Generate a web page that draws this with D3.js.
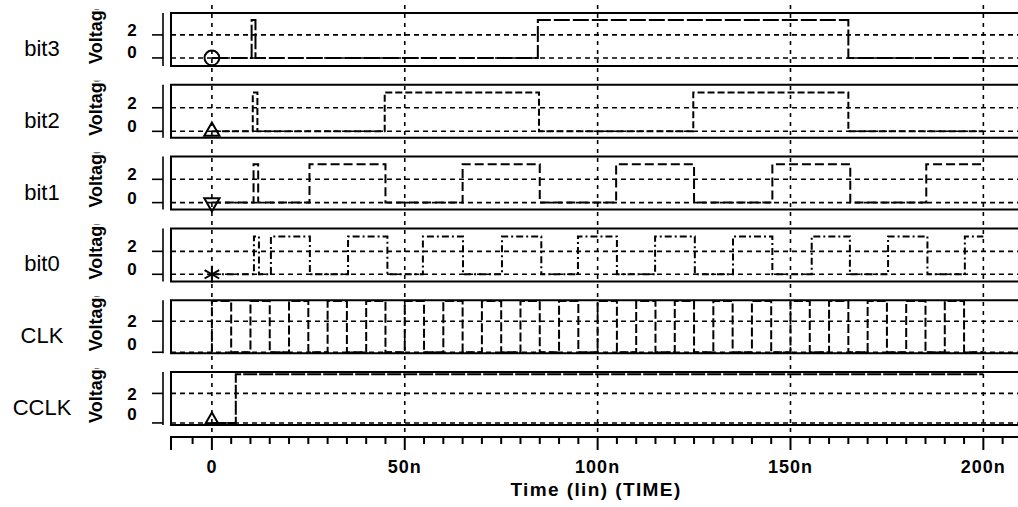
<!DOCTYPE html>
<html>
<head>
<meta charset="utf-8">
<script src="https://cdn.jsdelivr.net/npm/d3@7"></script>
<style>
  body { margin: 0; background: #fff; }
  svg { display: block; font-family: 'Liberation Sans', Arial, sans-serif; }
</style>
</head>
<body>
<div id="chart"></div>
<script>
// waveform data, times in ns, every signal starts low at t = 0
const signalNames = ['bit3', 'bit2', 'bit1', 'bit0', 'CLK', 'CCLK']
const highLevel = 3.3
const endTime = 200
const bit3Edges = [10.3, 11.3, 84.5, 165]
const bit2Edges = [10.6, 11.8, 44.8, 84.8, 124.8, 165]
const bit1Edges = [10.8, 12, 25.3, 45, 65, 85, 104.8, 125, 145.3, 165.5, 185.2]
const bit0Edges = [10.9, 12.2, 15.3, 25.4, 35.3, 45.5, 54.7, 65.1, 75.2, 85.4,
  94.9, 105, 114.9, 125.2, 135.1, 145.3, 155.5, 165.4, 175.3, 185.5, 195.2]
const clkEdges = [0, 5, 10, 15, 20, 25, 30, 35, 40, 45, 50, 55, 60, 65, 70, 75,
  80, 85, 90, 95, 100, 105, 110, 115, 120, 125, 130, 135, 140, 145, 150, 155,
  160, 165, 170, 175, 180, 185, 190, 195]
const cclkEdges = [6.2]
const voltTicks = [0, 2]
const timeTicks = [0, 50, 100, 150, 200]
const timeTickLabels = ['0', '50n', '100n', '150n', '200n']

const width = 1018
const height = 507
const panelHeight = 53
const panelStep = 71.8
const firstTop = 13
const axisY = 437

const panels = [
  { edges: bit3Edges, domain: [-0.7, 3.9], dash: '16,3', marker: d3.symbolCircle, size: 170, shift: [0, 1] },
  { edges: bit2Edges, domain: [-0.55, 3.95], dash: '7,3', marker: d3.symbolTriangle, size: 100, shift: [1, 1] },
  { edges: bit1Edges, domain: [-0.6, 3.95], dash: '9,4', marker: d3.symbolTriangle, size: 100, flip: true, shift: [1, 1] },
  { edges: bit0Edges, domain: [-0.62, 4.0], dash: '7,3,2,3', marker: d3.symbolAsterisk, size: 200, shift: [1, 1] },
  { edges: clkEdges, domain: [-0.06, 3.35], dash: '9,3', shift: [-2, 6] },
  { edges: cclkEdges, domain: [-0.14, 3.45], dash: '14,2', marker: d3.symbolTriangle, size: 70, shift: [-3, 7], lift: 3 }
]

const xScale = d3.scaleLinear().domain([-10.6, 209.5]).range([171, 1020])

const svg = d3
  .select('#chart')
  .append('svg')
  .attr('width', width)
  .attr('height', height)

const defs = svg.append('defs')

function stepPoints(edges) {
  const pts = [[0, 0]]
  let level = 0
  for (const t of edges) {
    pts.push([t, level])
    level = level === 0 ? highLevel : 0
    pts.push([t, level])
  }
  pts.push([endTime, level])
  return pts
}

// vertical grid lines through every panel
svg
  .append('g')
  .selectAll('line')
  .data(timeTicks)
  .join('line')
  .attr('x1', (d) => xScale(d))
  .attr('x2', (d) => xScale(d))
  .attr('y1', 5)
  .attr('y2', axisY)
  .attr('stroke', '#000')
  .attr('stroke-width', 1.6)
  .attr('stroke-dasharray', '4,5')

panels.forEach((p, i) => {
  const top = firstTop + i * panelStep
  const bottom = top + panelHeight
  const yScale = d3.scaleLinear().domain(p.domain).range([bottom, top])
  const g = svg.append('g')

  // horizontal grid at 0 V and 2 V
  g.selectAll('.hgrid')
    .data(voltTicks)
    .join('line')
    .attr('x1', xScale.range()[0])
    .attr('x2', width)
    .attr('y1', (d) => yScale(d))
    .attr('y2', (d) => yScale(d))
    .attr('stroke', '#000')
    .attr('stroke-width', 1.6)
    .attr('stroke-dasharray', '5,4')

  // panel frame
  g.append('path')
    .attr('d', `M${width + 5},${top}H${xScale.range()[0]}V${bottom}H${width + 5}`)
    .attr('fill', 'none')
    .attr('stroke', '#000')
    .attr('stroke-width', 2)

  // y axis
  const axisX = xScale.range()[0] - 8
  g.append('line')
    .attr('x1', axisX)
    .attr('x2', axisX)
    .attr('y1', top)
    .attr('y2', bottom)
    .attr('stroke', '#000')
    .attr('stroke-width', 1.6)

  g.selectAll('.ytick')
    .data(voltTicks)
    .join('line')
    .attr('x1', axisX - 11)
    .attr('x2', axisX)
    .attr('y1', (d) => yScale(d))
    .attr('y2', (d) => yScale(d))
    .attr('stroke', '#000')
    .attr('stroke-width', 1.6)

  g.selectAll('.ylabel')
    .data(voltTicks)
    .join('text')
    .attr('x', 132)
    .attr('y', (d, k) => yScale(d) + p.shift[k])
    .attr('text-anchor', 'middle')
    .style('font-size', '17px')
    .style('font-weight', 'bold')
    .text((d) => d)

  // rotated, clipped "Voltage" label
  defs
    .append('clipPath')
    .attr('id', 'clip' + i)
    .append('rect')
    .attr('x', 80)
    .attr('y', top - 4)
    .attr('width', 30)
    .attr('height', panelHeight + 5)

  g.append('g')
    .attr('clip-path', `url(#clip${i})`)
    .append('text')
    .attr('transform', `translate(102,${top + 51}) rotate(-90)`)
    .style('font-size', '18px')
    .style('font-weight', 'bold')
    .text('Voltage')

  g.append('text')
    .attr('x', 42)
    .attr('y', top + 43)
    .attr('text-anchor', 'middle')
    .style('font-size', '22px')
    .text(signalNames[i])

  // waveform
  const line = d3
    .line()
    .x((d) => xScale(d[0]))
    .y((d) => yScale(d[1]))

  g.append('path')
    .datum(stepPoints(p.edges))
    .attr('d', line)
    .attr('fill', 'none')
    .attr('stroke', '#000')
    .attr('stroke-width', 2)
    .attr('stroke-dasharray', p.dash)

  if (p.marker) {
    g.append('path')
      .attr('d', d3.symbol().type(p.marker).size(p.size)())
      .attr(
        'transform',
        `translate(${xScale(0)},${yScale(0) - (p.lift || 0)})` + (p.flip ? ' rotate(180)' : '')
      )
      .attr('fill', 'none')
      .attr('stroke', '#000')
      .attr('stroke-width', 2)
  }
})

// time axis
const axisG = svg.append('g')

axisG
  .append('path')
  .attr('d', `M${xScale.range()[0]},${axisY + 13}V${axisY}H${width + 5}`)
  .attr('fill', 'none')
  .attr('stroke', '#000')
  .attr('stroke-width', 2)

axisG
  .selectAll('.minor')
  .data(d3.range(-5, 210, 5))
  .join('line')
  .attr('x1', (d) => xScale(d))
  .attr('x2', (d) => xScale(d))
  .attr('y1', axisY)
  .attr('y2', (d) => (d % 50 === 0 ? axisY + 13 : axisY + 7))
  .attr('stroke', '#000')
  .attr('stroke-width', 2)

axisG
  .selectAll('.tlabel')
  .data(timeTicks)
  .join('text')
  .attr('x', (d) => xScale(d))
  .attr('y', 473)
  .attr('text-anchor', 'middle')
  .style('font-size', '18px')
  .style('font-weight', 'bold')
  .style('letter-spacing', '1px')
  .text((d, i) => timeTickLabels[i])

axisG
  .append('text')
  .attr('x', 596)
  .attr('y', 496)
  .attr('text-anchor', 'middle')
  .style('font-size', '19px')
  .style('font-weight', 'bold')
  .style('letter-spacing', '1.4px')
  .text('Time (lin) (TIME)')
</script>
</body>
</html>
